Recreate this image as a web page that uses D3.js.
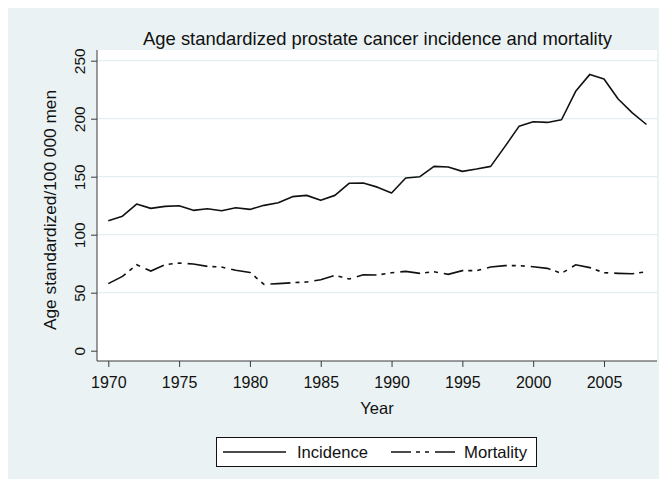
<!DOCTYPE html>
<html>
<head>
<meta charset="utf-8">
<script src="https://cdn.jsdelivr.net/npm/d3@7"></script>
<style>
  html, body { margin: 0; padding: 0; background: #ffffff; }
  svg { display: block; font-family: "Liberation Sans", Arial, sans-serif; }
</style>
</head>
<body>
<svg id="chart" width="659" height="479"></svg>
<script>
const years = d3.range(1970, 2009);
const incidence = [112, 116, 126.4, 122.7, 124.4, 125, 121, 122.4, 120.7, 123.3,
  121.8, 125.3, 127.6, 132.8, 133.9, 129.6, 133.9, 144.3, 144.5, 141,
  136, 148.9, 150, 158.9, 158.3, 154.6, 156.6, 158.9, 175.9, 193.4,
  197.4, 196.8, 199.1, 223.6, 238.2, 234.2, 217, 205, 195];
const mortality = [57.8, 64.1, 74.1, 68.7, 74.1, 75.6, 74.7, 72.7, 72.1, 69.3,
  67.5, 57.2, 57.8, 58.6, 59.2, 61.2, 64.9, 61.8, 65.5, 65.2,
  67.2, 68.4, 66.7, 68.1, 65.8, 69, 69, 72.1, 73.3, 73.3,
  72.4, 71, 66.7, 74.1, 71.6, 67.2, 66.7, 66.4, 68];
const yTicks = [0, 50, 100, 150, 200, 250];
const xTicks = [1970, 1975, 1980, 1985, 1990, 1995, 2000, 2005];
const seriesNames = ["Incidence", "Mortality"];
const titleText = "Age standardized prostate cancer incidence and mortality";
const yTitle = "Age standardized/100 000 men";
const xTitle = "Year";

const svg = d3.select("#chart");
const bg = "#EAF2F3";
const grid = "#E4EEF0";
const ink = "#111";
const dashDot = "20,5,4,5,4,6";

// outer graph region
svg.append("rect").attr("x", 8).attr("y", 8).attr("width", 651).attr("height", 471).attr("fill", bg);

const plot = {left: 97, right: 657, top: 50, bottom: 361};
svg.append("rect").attr("x", plot.left).attr("y", plot.top)
  .attr("width", plot.right - plot.left).attr("height", plot.bottom - plot.top).attr("fill", "#fff");

const x = d3.scaleLinear().domain([1970, 2005]).range([108.3, 604]);
const y = d3.scaleLinear().domain([0, 250]).range([350.7, 60.7]);

// gridlines
svg.append("g").selectAll("line").data(yTicks.filter(d => d > 0)).join("line")
  .attr("x1", plot.left).attr("x2", plot.right)
  .attr("y1", d => y(d)).attr("y2", d => y(d))
  .attr("stroke", grid).attr("stroke-width", 1.2);

// y axis
const yAxis = svg.append("g").attr("transform", `translate(${plot.left},0)`)
  .call(d3.axisLeft(y).tickValues(yTicks).tickSize(6).tickPadding(4).tickFormat(d3.format("d")));
yAxis.select(".domain").attr("d", `M0,${plot.top}V${plot.bottom}`).attr("stroke", "#3a3a3a");
yAxis.selectAll(".tick line").attr("stroke", "#3a3a3a");
yAxis.selectAll(".tick text")
  .attr("font-size", 15.5).attr("fill", ink)
  .attr("text-anchor", "middle").attr("x", null).attr("dy", null)
  .attr("transform", "translate(-16.5,0) rotate(-90)")
  .attr("y", 0).attr("dominant-baseline", "middle");

// x axis
const xAxis = svg.append("g").attr("transform", `translate(0,${plot.bottom})`)
  .call(d3.axisBottom(x).tickValues(xTicks).tickSize(6).tickPadding(4).tickFormat(d3.format("d")));
xAxis.select(".domain").attr("d", `M${plot.left},0H${plot.right}`).attr("stroke", "#3a3a3a");
xAxis.selectAll(".tick line").attr("stroke", "#3a3a3a");
xAxis.selectAll(".tick text").attr("font-size", 16).attr("fill", ink).attr("y", 26.5).attr("dy", null);

// lines
const line = d3.line().x((d, i) => x(years[i])).y(d => y(d));
svg.append("path").datum(incidence).attr("d", line)
  .attr("fill", "none").attr("stroke", ink).attr("stroke-width", 1.6).attr("stroke-linejoin", "round");
svg.append("path").datum(mortality).attr("d", line)
  .attr("fill", "none").attr("stroke", ink).attr("stroke-width", 1.6)
  .attr("stroke-dasharray", dashDot);

// titles
svg.append("text").attr("x", 377.5).attr("y", 44.5)
  .attr("text-anchor", "middle").attr("font-size", 19).attr("fill", ink)
  .attr("textLength", 469).attr("lengthAdjust", "spacingAndGlyphs").text(titleText);
svg.append("text").attr("x", (plot.left + plot.right) / 2).attr("y", 414)
  .attr("text-anchor", "middle").attr("font-size", 16.5).attr("fill", ink).text(xTitle);
svg.append("text").attr("transform", `translate(56,210) rotate(-90)`)
  .attr("text-anchor", "middle").attr("font-size", 17).attr("fill", ink)
  .attr("textLength", 240).attr("lengthAdjust", "spacingAndGlyphs").text(yTitle);

// legend
const lg = svg.append("g");
lg.append("rect").attr("x", 216.5).attr("y", 437.5).attr("width", 320).attr("height", 29)
  .attr("fill", "#fff").attr("stroke", ink).attr("stroke-width", 1);
const legendItems = [
  {name: seriesNames[0], x1: 223, x2: 286, tx: 297, w: 71, dash: null},
  {name: seriesNames[1], x1: 391, x2: 456, tx: 464, w: 63, dash: dashDot}
];
legendItems.forEach(it => {
  lg.append("line").attr("x1", it.x1).attr("x2", it.x2).attr("y1", 452).attr("y2", 452)
    .attr("stroke", ink).attr("stroke-width", 1.6).attr("stroke-dasharray", it.dash);
  lg.append("text").attr("x", it.tx).attr("y", 458).attr("font-size", 16.5).attr("fill", ink)
    .attr("textLength", it.w).attr("lengthAdjust", "spacingAndGlyphs").text(it.name);
});
</script>
</body>
</html>
